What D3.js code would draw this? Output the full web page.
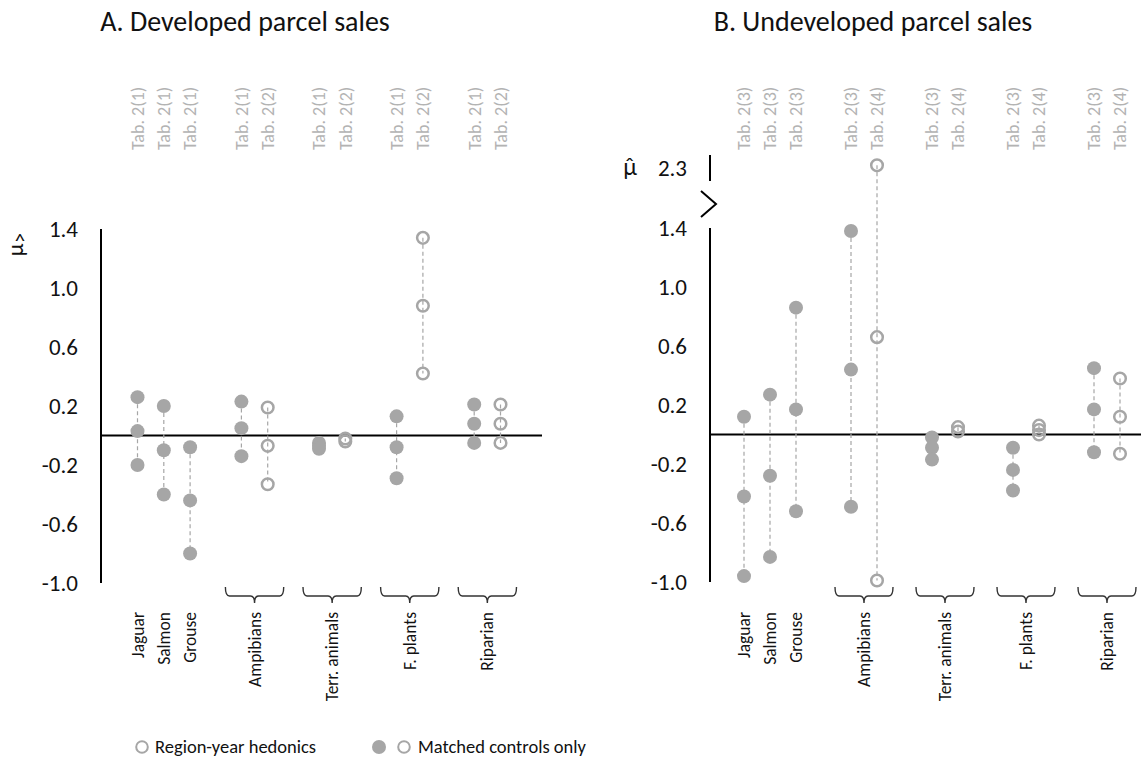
<!DOCTYPE html>
<html>
<head>
<meta charset="utf-8">
<script src="https://cdn.jsdelivr.net/npm/d3@7"></script>
<style>
  body { margin: 0; background: #fff; }
  svg { display: block; }
  text { font-family: Carlito, Lato, sans-serif; }
</style>
</head>
<body>
<svg width="1141" height="761"></svg>
<script>
// one entry per column of dots, same layout in both panels
var groups = ["Jaguar", "Salmon", "Grouse", "Ampibians", "Ampibians", "Terr. animals", "Terr. animals",
  "F. plants", "F. plants", "Riparian", "Riparian"];
var hedonic = [false, false, false, false, true, false, true, false, true, false, true];

var tabsA = ["Tab. 2(1)", "Tab. 2(1)", "Tab. 2(1)", "Tab. 2(1)", "Tab. 2(2)", "Tab. 2(1)", "Tab. 2(2)",
  "Tab. 2(1)", "Tab. 2(2)", "Tab. 2(1)", "Tab. 2(2)"];
var tabsB = ["Tab. 2(3)", "Tab. 2(3)", "Tab. 2(3)", "Tab. 2(3)", "Tab. 2(4)", "Tab. 2(3)", "Tab. 2(4)",
  "Tab. 2(3)", "Tab. 2(4)", "Tab. 2(3)", "Tab. 2(4)"];

// estimated mu-hat values per column
var valuesA = [
  [0.26, 0.03, -0.2],
  [0.2, -0.1, -0.4],
  [-0.08, -0.44, -0.8],
  [0.23, 0.05, -0.14],
  [0.19, -0.07, -0.33],
  [-0.05, -0.07, -0.09],
  [-0.02, -0.04],
  [0.13, -0.08, -0.29],
  [1.34, 0.88, 0.42],
  [0.21, 0.08, -0.05],
  [0.21, 0.08, -0.05]
];
var valuesB = [
  [0.12, -0.42, -0.96],
  [0.27, -0.28, -0.83],
  [0.86, 0.17, -0.52],
  [1.38, 0.44, -0.49],
  [2.34, 0.66, -0.99],
  [-0.02, -0.09, -0.17],
  [0.05, 0.02],
  [-0.09, -0.24, -0.38],
  [0.06, 0.03, 0.0],
  [0.45, 0.17, -0.12],
  [0.38, 0.12, -0.13]
];

var yTicks = [-1.0, -0.6, -0.2, 0.2, 0.6, 1.0, 1.4];
var breakTick = 2.3;
var legendLabels = ["Region-year hedonics", "Matched controls only"];

var svg = d3.select("svg");
var grey = "#a6a6a6";

function columnX(x0, step, gap) {
  // the three single species sit side by side, the pairs get a gap around them
  var count = d3.rollup(groups, (v) => v.length, (d) => d);
  var slot = d3.scaleLinear().domain([0, 1]).range([x0, x0 + step]);
  var k = 0;
  return groups.map(function (g, i) {
    if (i > 0 && g !== groups[i - 1] && (count.get(g) > 1 || count.get(groups[i - 1]) > 1)) k++;
    return slot(i + (k * gap) / step);
  });
}

function drawPanel(p) {
  var g = svg.append("g");
  var y = p.y;
  var xs = columnX(p.x0, p.step, p.gap);

  g.append("text")
    .attr("x", p.titleX)
    .attr("y", 31)
    .attr("text-anchor", "middle")
    .style("font-size", "28px")
    .style("fill", "#111")
    .text(p.title);

  // table references on top
  g.selectAll(".tab")
    .data(p.tabs)
    .enter()
    .append("text")
    .attr("transform", (d, i) => "translate(" + xs[i] + ",150)rotate(-90)")
    .attr("dy", "0.35em")
    .style("font-size", "18px")
    .style("fill", "#b3b3b3")
    .text((d) => d);

  // y axis
  var ticks = p.broken ? yTicks.concat([breakTick]) : yTicks;
  var ax = g.append("g")
    .attr("transform", "translate(" + p.axisX + ",0)")
    .call(d3.axisLeft(y).tickValues(ticks).tickSize(0).tickPadding(23).tickFormat((d) => d.toFixed(1)));
  ax.select(".domain").remove();
  ax.selectAll("text").style("font-size", "23px").style("fill", "#111").style("font-family", "Carlito, Lato, sans-serif");

  g.append("line")
    .attr("x1", p.axisX).attr("x2", p.axisX)
    .attr("y1", y(-1.0)).attr("y2", y(1.4))
    .style("stroke", "#000").style("stroke-width", 2);

  if (p.broken) {
    g.append("line")
      .attr("x1", p.axisX).attr("x2", p.axisX)
      .attr("y1", y(breakTick) - 13).attr("y2", y(breakTick) + 13)
      .style("stroke", "#000").style("stroke-width", 2);
    var mid = y(1.4) - 24;
    g.append("path")
      .attr("d", "M" + (p.axisX - 9) + "," + (mid - 13) + "L" + (p.axisX + 6) + "," + mid + "L" + (p.axisX - 9) + "," + (mid + 13))
      .style("fill", "none").style("stroke", "#000").style("stroke-width", 2);
  }

  // mu-hat axis label
  if (p.muRotate) {
    g.append("text")
      .attr("transform", "translate(" + p.muX + "," + (p.muY + 10) + ")rotate(-90)")
      .attr("text-anchor", "middle")
      .attr("dy", "0.15em")
      .style("font-size", "23px")
      .style("fill", "#111")
      .text("\u03BC");
    g.append("text")
      .attr("x", p.muX)
      .attr("y", p.muY + 8)
      .attr("text-anchor", "middle")
      .style("font-size", "21px")
      .style("fill", "#111")
      .text("^");
  } else {
    g.append("text")
      .attr("x", p.muX)
      .attr("y", p.muY)
      .attr("text-anchor", "middle")
      .attr("dy", "0.35em")
      .style("font-size", "23px")
      .style("fill", "#111")
      .text("\u03BC\u0302");
  }

  // zero line
  g.append("line")
    .attr("x1", p.axisX).attr("x2", p.lineEnd)
    .attr("y1", y(0)).attr("y2", y(0))
    .style("stroke", "#000").style("stroke-width", 2);

  // dashed range lines
  g.selectAll(".range")
    .data(p.values)
    .enter()
    .append("line")
    .attr("x1", (d, i) => xs[i]).attr("x2", (d, i) => xs[i])
    .attr("y1", (d) => y(d3.max(d))).attr("y2", (d) => y(d3.min(d)))
    .style("stroke", grey)
    .style("stroke-width", 1.2)
    .style("stroke-dasharray", "4,3");

  var pts = [];
  p.values.forEach(function (vals, i) {
    vals.forEach((v) => pts.push({ x: xs[i], v: v, open: hedonic[i] }));
  });

  g.selectAll(".dot")
    .data(pts)
    .enter()
    .append("circle")
    .attr("cx", (d) => d.x)
    .attr("cy", (d) => y(d.v))
    .attr("r", (d) => (d.open ? 5.8 : 7))
    .style("fill", (d) => (d.open ? "none" : grey))
    .style("stroke", (d) => (d.open ? grey : "none"))
    .style("stroke-width", 2.5);

  // braces under the paired groups
  var pairs = d3.groups(groups.map((d, i) => ({ g: d, x: xs[i] })), (d) => d.g)
    .filter((d) => d[1].length > 1);
  g.selectAll(".brace")
    .data(pairs)
    .enter()
    .append("path")
    .attr("d", function (d) {
      var x1 = d3.min(d[1], (e) => e.x) - 16,
        x2 = d3.max(d[1], (e) => e.x) + 16,
        c = (x1 + x2) / 2;
      return "M" + x1 + ",587Q" + x1 + ",596 " + (x1 + 4) + ",596L" + (c - 4) + ",596Q" + c + ",596 " + c + ",603" +
        "Q" + c + ",596 " + (c + 4) + ",596L" + (x2 - 4) + ",596Q" + x2 + ",596 " + x2 + ",587";
    })
    .style("fill", "none")
    .style("stroke", "#333")
    .style("stroke-width", 1.4);

  // category labels
  var labels = d3.groups(groups.map((d, i) => ({ g: d, x: xs[i] })), (d) => d.g)
    .map((d) => ({ name: d[0], x: d3.mean(d[1], (e) => e.x) }));
  g.selectAll(".cat")
    .data(labels)
    .enter()
    .append("text")
    .attr("transform", (d) => "translate(" + d.x + ",612)rotate(-90)")
    .attr("text-anchor", "end")
    .attr("dy", "0.35em")
    .style("font-size", "17.5px")
    .style("fill", "#111")
    .text((d) => d.name);
}

drawPanel({
  title: "A. Developed parcel sales",
  titleX: 245,
  axisX: 101,
  lineEnd: 542,
  x0: 137.5,
  step: 26.3,
  gap: 25,
  y: d3.scaleLinear().domain([-1.0, 1.4]).range([583, 229]),
  tabs: tabsA,
  values: valuesA,
  broken: false,
  muX: 20, muY: 240, muRotate: true
});

drawPanel({
  title: "B. Undeveloped parcel sales",
  titleX: 873,
  axisX: 710,
  lineEnd: 1141,
  x0: 744,
  step: 26,
  gap: 29,
  y: d3.scaleLinear().domain([-1.0, 1.4, breakTick]).range([582, 228, 168]),
  tabs: tabsB,
  values: valuesB,
  broken: true,
  muX: 630, muY: 167, muRotate: false
});

// legend
var legend = svg.append("g").attr("transform", "translate(0,747)");
legend.append("circle").attr("cx", 142).attr("r", 5.8)
  .style("fill", "none").style("stroke", grey).style("stroke-width", 2);
legend.append("circle").attr("cx", 379).attr("r", 7).style("fill", grey);
legend.append("circle").attr("cx", 404).attr("r", 5.8)
  .style("fill", "none").style("stroke", grey).style("stroke-width", 2);
legend.selectAll(".lab")
  .data(legendLabels)
  .enter()
  .append("text")
  .attr("x", (d, i) => [155, 418][i])
  .attr("dy", "0.35em")
  .style("font-size", "18.5px")
  .style("fill", "#111")
  .text((d) => d);
</script>
</body>
</html>
